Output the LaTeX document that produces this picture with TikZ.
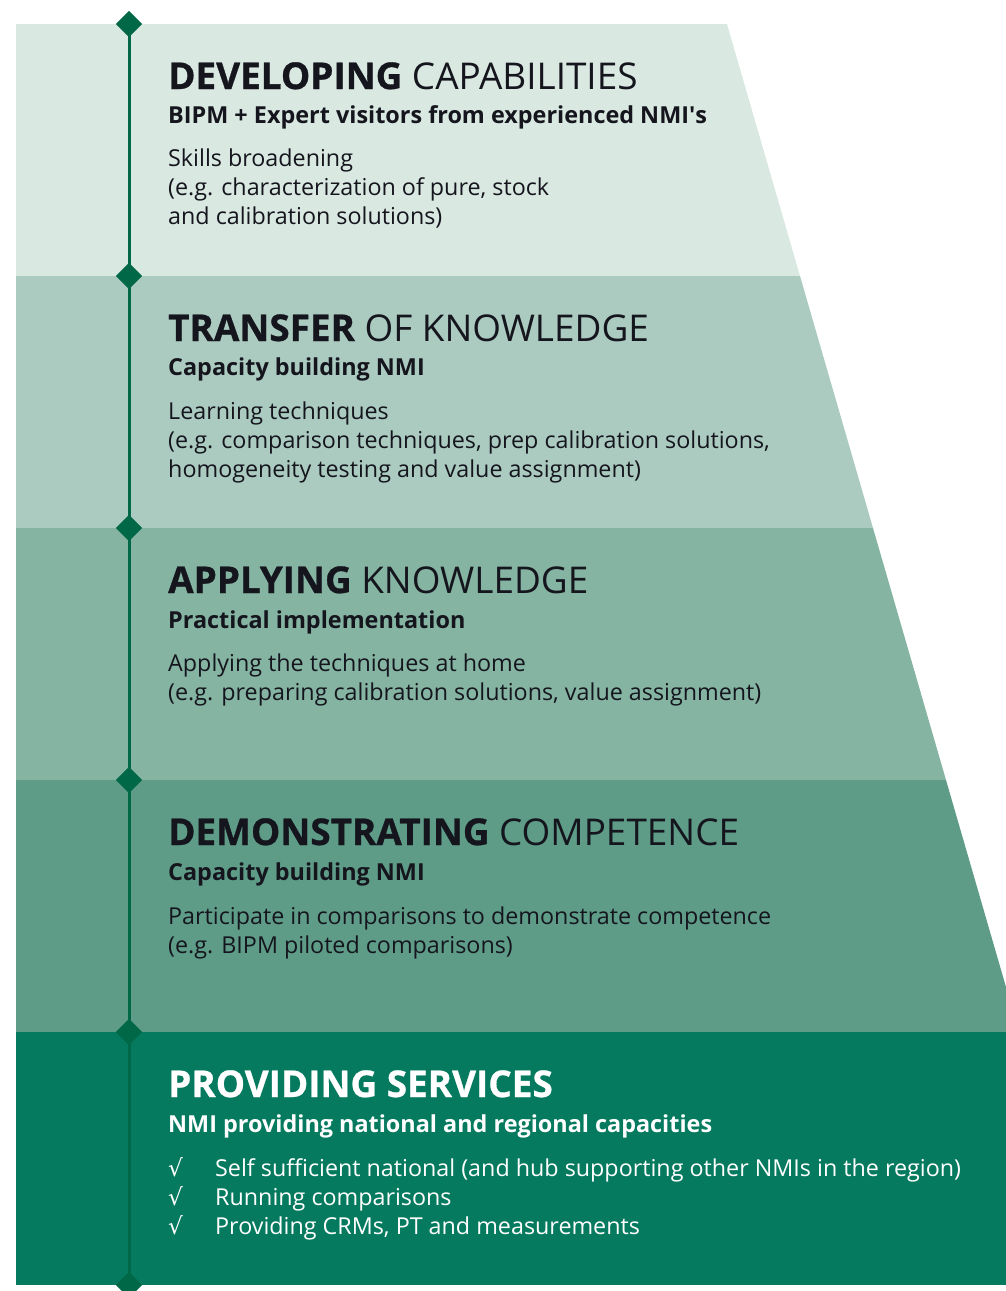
\documentclass[tikz,border=0pt]{standalone}
\usepackage{fontspec}
\setmainfont{Open Sans}
\newfontfamily\heavy{Open Sans}[BoldFeatures={FakeBold=0.8}]
\newfontfamily\plainq{Open Sans}[Ligatures=TeXOff]
\newfontfamily\symfont{DejaVu Sans}
\usetikzlibrary{shapes.geometric}
\definecolor{bandA}{HTML}{D9E8E1}
\definecolor{bandB}{HTML}{ABCBC0}
\definecolor{bandC}{HTML}{85B4A2}
\definecolor{bandD}{HTML}{5E9C88}
\definecolor{bandE}{HTML}{057A5F}
\definecolor{lineg}{HTML}{006747}
\definecolor{ink}{HTML}{15151D}
\newcommand{\hv}[1]{{\heavy\bfseries #1}}
\tikzset{
  ttl/.style={anchor=base west,inner sep=0pt,text=ink,font=\fontsize{36.9}{40}\selectfont},
  sub/.style={anchor=base west,inner sep=0pt,text=ink,font=\fontsize{23.4}{28}\selectfont\bfseries},
  bod/.style={anchor=base west,inner sep=0pt,text=ink,align=left,font=\fontsize{23.3}{28.7}\selectfont},
  dia/.style={diamond,fill=lineg,inner sep=0pt,minimum size=26pt},
}
\begin{document}
\begin{tikzpicture}[x=1pt,y=-1pt]
\useasboundingbox (0,0) rectangle (1006,1291);
\fill[bandA] (16,24) -- (727,24) -- (800,276) -- (16,276) -- cycle;
\fill[bandB] (16,276) -- (800,276) -- (873,528) -- (16,528) -- cycle;
\fill[bandC] (16,528) -- (873,528) -- (946,780) -- (16,780) -- cycle;
\fill[bandD] (16,780) -- (946,780) -- (1006,987) -- (1006,1032) -- (16,1032) -- cycle;
\fill[bandE] (16,1032) rectangle (1006,1285);
\node[dia] (d0) at (129,24) {};
\node[dia] (d1) at (129,276) {};
\node[dia] (d2) at (129,528) {};
\node[dia] (d3) at (129,780) {};
\node[dia] (d4) at (129,1032) {};
\node[dia] (d5) at (129,1285) {};
\draw[lineg,line width=3pt] (d0.center) -- (d5.center);
\foreach \n in {d0,d1,d2,d3,d4,d5} \node[dia] at (\n) {};
% band 1
\node[ttl] (t1) at (168,89) {\hv{DEVELOPING} CAPABILITIES};
\node[sub] (s1) at (168,123) {BIPM + Expert visitors from experienced NMI{\plainq\bfseries '}s};
\node[bod] (b1) at (168,224) {Skills broadening\\(e.g. characterization of pure, stock\\and calibration solutions)};
% band 2
\node[ttl] (t2) at (168,341) {\hv{TRANSFER} OF KNOWLEDGE};
\node[sub] (s2) at (168,375) {Capacity building NMI};
\node[bod] (b2) at (168,477) {Learning techniques\\(e.g. comparison techniques, prep calibration solutions,\\homogeneity testing and value assignment)};
% band 3
\node[ttl] (t3) at (168,593) {\hv{APPLYING} KNOWLEDGE};
\node[sub] (s3) at (168,628) {Practical implementation};
\node[bod] (b3) at (168,700) {Applying the techniques at home\\(e.g. preparing calibration solutions, value assignment)};
% band 4
\node[ttl] (t4) at (168,845) {\hv{DEMONSTRATING} COMPETENCE};
\node[sub] (s4) at (168,880) {Capacity building NMI};
\node[bod] (b4) at (168,953) {Participate in comparisons to demonstrate competence\\(e.g. BIPM piloted comparisons)};
% band 5
\node[ttl,text=white] (t5) at (168,1097) {\hv{PROVIDING SERVICES}};
\node[sub,text=white] (s5) at (168,1132) {NMI providing national and regional capacities};
\node[bod,text=white] (c1) at (168,1176) {{\symfont √}};
\node[bod,text=white] (c2) at (168,1205) {{\symfont √}};
\node[bod,text=white] (c3) at (168,1234) {{\symfont √}};
\node[bod,text=white] (i1) at (215,1176) {Self sufficient national (and hub supporting other NMIs in the region)};
\node[bod,text=white] (i2) at (215,1205) {Running comparisons};
\node[bod,text=white] (i3) at (215,1234) {Providing CRMs, PT and measurements};
\end{tikzpicture}
\end{document}
